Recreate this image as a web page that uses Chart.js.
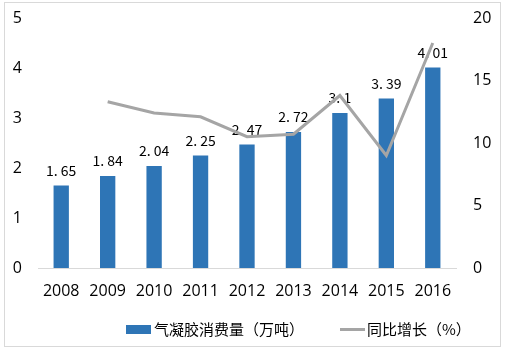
<!DOCTYPE html>
<html><head><meta charset="utf-8">
<script src="https://cdn.jsdelivr.net/npm/chart.js@4/dist/chart.umd.min.js"></script>
<style>html,body{margin:0;padding:0;background:#fff;}#wrap{width:506px;height:355px;position:relative;}</style>
</head><body><div id="wrap"><canvas id="c" width="506" height="355"></canvas></div>
<script>
const years = ['2008','2009','2010','2011','2012','2013','2014','2015','2016'];
const consumption = [1.65,1.84,2.04,2.25,2.47,2.72,3.1,3.39,4.01];
const growth = [null,13.3,12.4,12.1,10.5,10.7,13.8,9.0,18.0];
const leftTicks = [0,1,2,3,4,5];
const rightTicks = [0,5,10,15,20];
const barLabel = '气凝胶消费量（万吨）';
const lineLabel = '同比增长（%）';

const NUM_FONT = '"Open Sans", "Noto Sans", sans-serif';
const CJK_FONT = '"Noto Sans CJK SC", sans-serif';

const framePlugin = {
  id: 'frame',
  beforeDraw(chart) {
    const ctx = chart.ctx;
    ctx.save();
    ctx.fillStyle = '#fff';
    ctx.fillRect(0,0,chart.width,chart.height);
    ctx.strokeStyle = '#d9d9d9';
    ctx.lineWidth = 1;
    ctx.strokeRect(4.5, 2.5, 496, 344);
    ctx.restore();
  },
  afterDatasetDraw(chart, args) {
    if (args.index !== 0) return;
    const ctx = chart.ctx;
    const meta = chart.getDatasetMeta(0);
    ctx.save();
    ctx.font = '14px ' + CJK_FONT;
    ctx.fillStyle = '#000';
    ctx.textAlign = 'center';
    ctx.textBaseline = 'middle';
    meta.data.forEach((el, i) => {
      const txt = String(consumption[i]).replace('.', '. ');
      ctx.fillText(txt, el.x, el.y - 15);
    });
    ctx.restore();
  },
  afterDraw(chart) {
    const ctx = chart.ctx;
    ctx.save();
    const y = 329;
    ctx.fillStyle = '#2E75B6';
    ctx.fillRect(126, y - 4, 25, 9);
    ctx.font = '15px ' + CJK_FONT;
    ctx.fillStyle = '#000';
    ctx.textBaseline = 'middle';
    ctx.textAlign = 'left';
    ctx.fillText(barLabel, 154, y);
    ctx.strokeStyle = '#A5A5A5';
    ctx.lineWidth = 3;
    ctx.beginPath();
    ctx.moveTo(340, y + 0.5);
    ctx.lineTo(365, y + 0.5);
    ctx.stroke();
    ctx.fillText(lineLabel, 367, y);
    ctx.restore();
  }
};

new Chart(document.getElementById('c'), {
  data: {
    labels: years,
    datasets: [
      {
        type: 'bar',
        label: barLabel,
        data: consumption,
        backgroundColor: '#2E75B6',
        barPercentage: 0.33,
        categoryPercentage: 1,
        yAxisID: 'y',
        order: 2
      },
      {
        type: 'line',
        label: lineLabel,
        data: growth,
        borderColor: '#A5A5A5',
        borderWidth: 3,
        pointRadius: 0,
        tension: 0,
        fill: false,
        yAxisID: 'y1',
        order: 1
      }
    ]
  },
  options: {
    responsive: false,
    animation: false,
    layout: { padding: { left: 0, right: 0, top: 18, bottom: 47 } },
    plugins: { legend: { display: false }, tooltip: { enabled: false } },
    scales: {
      x: {
        grid: { display: false },
        border: { display: true, color: '#d9d9d9', width: 1 },
        ticks: { color: '#000', font: { family: NUM_FONT, size: 16 }, padding: 6, maxRotation: 0 },
        afterFit(s) { s.height = 40; }
      },
      y: {
        position: 'left',
        min: 0, max: 5,
        grid: { display: false, tickLength: 16 },
        border: { display: false },
        afterBuildTicks(s) { s.ticks = leftTicks.map(v => ({ value: v })); },
        ticks: { color: '#000', font: { family: NUM_FONT, size: 16 }, padding: 0 },
        afterFit(s) { s.width = 38; }
      },
      y1: {
        position: 'right',
        min: 0, max: 20,
        grid: { display: false, tickLength: 17 },
        border: { display: false },
        afterBuildTicks(s) { s.ticks = rightTicks.map(v => ({ value: v })); },
        ticks: { color: '#000', font: { family: NUM_FONT, size: 16 }, padding: 0 },
        afterFit(s) { s.width = 50; }
      }
    }
  },
  plugins: [framePlugin]
});
</script></body></html>
